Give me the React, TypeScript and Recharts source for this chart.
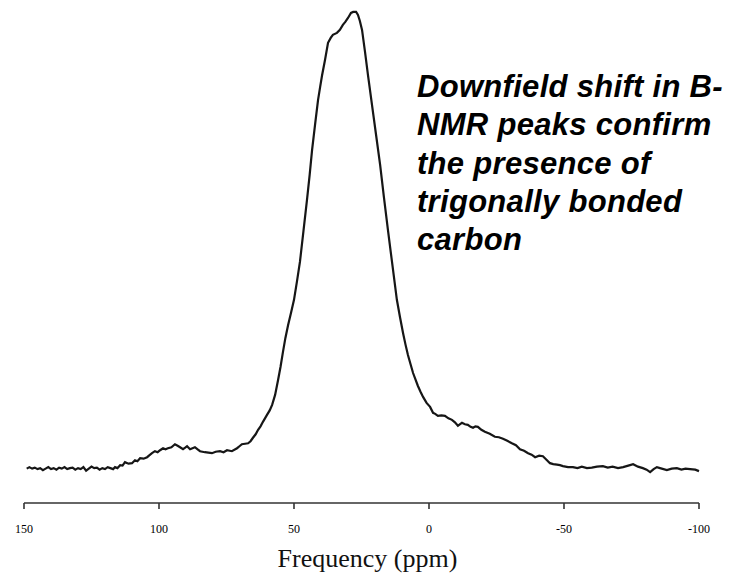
import { LineChart, Line, XAxis, YAxis, Label } from "recharts";

const shiftPpm = [
  149, 148, 147, 146, 145, 144, 143, 142, 141, 140, 139, 138, 137, 136, 135, 134, 133,
  132, 131, 130, 129, 128, 127, 126, 125, 124, 123, 122, 121, 120, 119, 118, 117,
  116.3, 115.4, 114.4, 113.5, 112.6, 111.3, 110.0, 108.9, 108.0, 107.0, 105.7, 104.4,
  103.5, 102.6, 101.5, 100.5, 99.6, 98.5, 97.6, 96.7, 95.4, 94.1, 93.1, 92.2, 91.1,
  90.3, 89.6, 88.5, 87.6, 86.7, 85.8, 84.8, 83.0, 81.7, 80.4, 79.0, 77.4, 76.1, 74.8,
  73.0, 71.1, 70.2, 69.3, 68.1, 67.0, 66.1, 65.2, 64.2, 63.3, 62.4, 61.5, 60.0, 59.0,
  58.1, 57.0, 55.9, 55.0, 54.1, 53.2, 52.2, 51.1, 50.0, 48.9, 47.8, 46.5, 45.2, 44.2,
  43.3, 42.2, 41.1, 40.3, 39.6, 38.5, 37.4, 36.4, 35.6, 34.1, 33.0, 31.9, 31.0, 30.0,
  28.9, 28.1, 27.0, 26.3, 25.6, 24.8, 23.7, 22.6, 21.1, 19.6, 18.1, 16.7, 15.2, 13.7,
  11.9, 10.7, 9.6, 8.7, 7.8, 6.8, 5.9, 4.1, 3.1, 2.2, 0.9, -0.4, -1.5, -2.3, -3.3,
  -4.6, -5.9, -7.2, -8.5, -9.6, -10.7, -11.4, -12.2, -13.3, -14.4, -15.4, -16.3,
  -17.2, -18.1, -19.4, -20.7, -22.5, -24.4, -25.9, -27.4, -29.0, -30.7, -32.2, -33.7,
  -35.2, -36.7, -38.0, -39.3, -40.8, -42.2, -43.5, -44.8, -46.0, -47.4, -48.5, -49.6,
  -51.5, -53.3, -55.0, -56.6, -58.5, -60.3, -62.2, -64.4, -66.2, -68.0, -70.0, -71.9,
  -73.8, -75.6, -77.4, -79.2, -80.6, -81.9, -83.2, -84.4, -86.2, -88.1, -89.9, -91.8,
  -93.5, -95.0, -96.7, -98.6, -100.0,
];

// signal intensity (arbitrary units, 0..100)
const intensity = [
  6.9, 7.2, 6.9, 7.1, 6.8, 7.0, 6.6, 6.9, 7.2, 6.8, 7.0, 6.7, 7.1, 6.9, 7.2, 6.8, 7.0,
  7.1, 6.7, 7.0, 6.8, 7.2, 6.5, 6.9, 7.3, 7.0, 7.1, 6.7, 7.0, 6.8, 7.2, 7.0, 6.8,
  7.2, 7.0, 7.6, 7.5, 8.2, 7.9, 8.0, 8.6, 8.4, 9.0, 8.9, 9.2,
  9.6, 10.0, 10.4, 10.2, 10.6, 11.0, 10.8, 11.0, 11.2, 11.8, 11.5, 11.2, 10.8,
  11.1, 11.4, 10.8, 11.0, 11.2, 10.8, 10.4, 10.2, 10.1, 10.0, 10.3, 10.4, 10.2, 10.6,
  10.4, 11.0, 11.4, 11.8, 11.9, 12.0, 12.4, 13.1, 13.8, 14.7, 15.4, 16.3, 17.7, 18.6,
  19.7, 21.7, 24.7, 27.3, 30.3, 33.1, 35.7, 38.2, 40.8, 44.5, 48.4, 54.6, 60.8, 65.9,
  70.9, 76.0, 80.9, 83.6, 85.9, 89.0, 92.4, 93.4, 94.0, 94.4, 95.0, 96.0, 96.6, 97.4,
  98.4, 98.6, 98.6, 98.0, 96.8, 95.0, 90.6, 85.9, 79.9, 73.9, 67.9, 61.4, 54.8, 48.4,
  40.8, 37.2, 34.1, 31.8, 29.7, 27.8, 26.1, 23.5, 22.3, 21.3, 20.1, 19.3, 18.1, 17.9, 17.5,
  17.6, 17.5, 17.0, 16.7, 16.2, 15.5, 15.8, 16.1, 15.8, 15.7, 15.3, 15.1,
  15.4, 15.3, 14.7, 14.3, 13.9, 13.3, 13.2, 12.9, 12.5, 12.0, 11.6, 10.8,
  10.5, 10.0, 9.7, 9.2, 9.5, 9.4, 8.7, 8.0, 7.8, 7.7, 7.6, 7.4,
  7.2, 7.2, 7.0, 7.3, 7.0, 7.1, 7.3, 7.4, 7.1, 7.3, 7.0, 7.2,
  7.5, 7.8, 7.3, 7.0, 6.7, 6.2, 6.8, 7.2, 6.9, 6.6, 6.9, 7.0,
  6.7, 6.9, 6.8, 6.7, 6.4,
];

const xTicks = [150, 100, 50, 0, -50, -100];

const noteLines = [
  "Downfield shift in B-",
  "NMR peaks confirm",
  "the presence of",
  "trigonally bonded",
  "carbon",
];
const noteBaselines = [97, 135, 174, 212, 250];

const data = shiftPpm.map((p, i) => ({ ppm: p, signal: intensity[i] }));

const serif = "Liberation Serif, Times New Roman, serif";

export default function App() {
  return (
    <div style={{ position: "absolute", left: 0, top: 0, width: 739, height: 577, background: "#fff" }}>
      <LineChart width={739} height={577} data={data} margin={{ top: 5, right: 40, left: 24, bottom: 0 }}>
        <XAxis
          type="number"
          dataKey="ppm"
          domain={[-100, 150]}
          reversed
          ticks={xTicks}
          interval={0}
          height={74}
          stroke="#333"
          strokeWidth={1.6}
          tickSize={6}
          tickMargin={15}
          tick={{ fontSize: 12, fontFamily: serif, fill: "#000" }}
        >
          <Label
            value="Frequency (ppm)"
            position="insideBottom"
            offset={10}
            dx={6}
            style={{ fontSize: 26, fontFamily: serif, fill: "#111" }}
          />
        </XAxis>
        <YAxis hide width={0} domain={[0, 100]} type="number" />
        <Line
          type="linear"
          dataKey="signal"
          stroke="#161616"
          strokeWidth={2.2}
          dot={false}
          isAnimationActive={false}
        />
      </LineChart>
      <svg width={739} height={577} style={{ position: "absolute", left: 0, top: 0, pointerEvents: "none" }}>
        {noteLines.map((t, i) => (
          <text
            key={t}
            x={417}
            y={noteBaselines[i]}
            fontFamily="Liberation Sans, Arial, sans-serif"
            fontWeight="bold"
            fontStyle="italic"
            fontSize={31}
            letterSpacing={0.3}
            fill="#000"
          >
            {t}
          </text>
        ))}
      </svg>
    </div>
  );
}
